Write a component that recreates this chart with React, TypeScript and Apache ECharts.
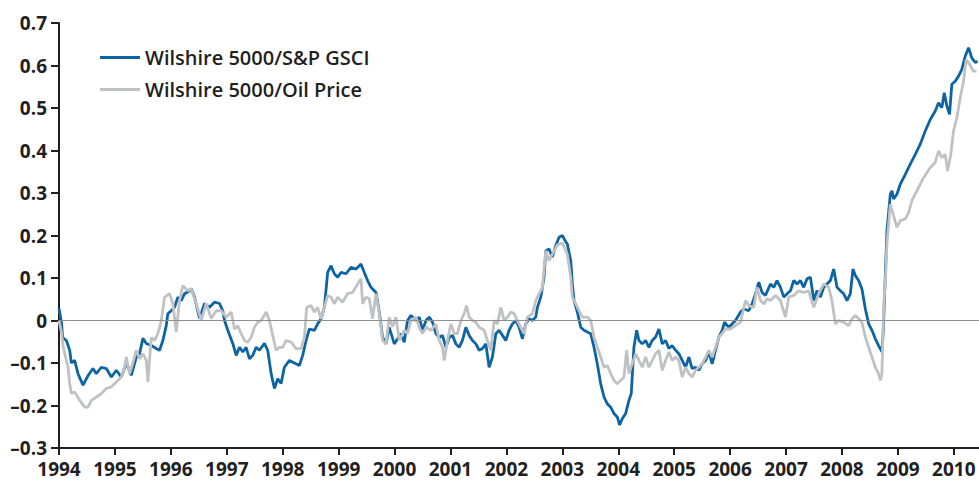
import React, { useEffect, useRef } from "react";
import * as echarts from "echarts";

// Wilshire 5000 / S&P GSCI  (decimal year, value)
const gsciSeries: [number, number][] = [
  [1994.0, 0.028], [1994.043, -0.004], [1994.066, -0.04], [1994.132, -0.047], [1994.191, -0.07],
  [1994.221, -0.1], [1994.28, -0.094], [1994.339, -0.125], [1994.429, -0.152], [1994.518, -0.13],
  [1994.607, -0.113], [1994.668, -0.125], [1994.757, -0.11], [1994.846, -0.113], [1994.936, -0.133],
  [1995.025, -0.117], [1995.114, -0.133], [1995.204, -0.1], [1995.293, -0.129], [1995.382, -0.086],
  [1995.441, -0.078], [1995.5, -0.042], [1995.561, -0.054], [1995.65, -0.059], [1995.739, -0.066],
  [1995.798, -0.07], [1995.857, -0.047], [1995.918, -0.012], [1995.946, 0.016], [1996.007, 0.023],
  [1996.066, 0.031], [1996.125, 0.055], [1996.186, 0.047], [1996.245, 0.063], [1996.334, 0.07],
  [1996.364, 0.075], [1996.423, 0.055], [1996.513, 0.005], [1996.602, 0.04], [1996.691, 0.031],
  [1996.78, 0.043], [1996.87, 0.04], [1996.929, 0.023], [1996.96, 0.0], [1997.018, -0.023],
  [1997.107, -0.054], [1997.168, -0.082], [1997.227, -0.063], [1997.286, -0.074], [1997.346, -0.063],
  [1997.405, -0.09], [1997.464, -0.082], [1997.525, -0.063], [1997.584, -0.07], [1997.673, -0.054],
  [1997.732, -0.07], [1997.793, -0.125], [1997.852, -0.16], [1997.911, -0.137], [1997.971, -0.148],
  [1998.03, -0.11], [1998.12, -0.094], [1998.209, -0.1], [1998.298, -0.106], [1998.357, -0.082],
  [1998.418, -0.047], [1998.477, -0.02], [1998.566, -0.023], [1998.625, -0.008], [1998.686, 0.004],
  [1998.745, 0.031], [1998.804, 0.113], [1998.864, 0.129], [1998.923, 0.11], [1998.982, 0.102],
  [1999.043, 0.113], [1999.132, 0.11], [1999.221, 0.125], [1999.311, 0.121], [1999.4, 0.133],
  [1999.459, 0.113], [1999.518, 0.094], [1999.579, 0.078], [1999.668, 0.066], [1999.727, 0.02],
  [1999.786, -0.04], [1999.846, -0.055], [1999.905, -0.016], [1999.995, -0.055], [2000.114, -0.031],
  [2000.173, -0.051], [2000.232, 0.0], [2000.293, 0.012], [2000.382, 0.0], [2000.441, 0.008],
  [2000.5, -0.023], [2000.561, 0.0], [2000.62, 0.008], [2000.679, -0.004], [2000.739, -0.031],
  [2000.798, -0.04], [2000.857, -0.035], [2000.918, -0.063], [2000.977, -0.04], [2001.036, -0.035],
  [2001.096, -0.055], [2001.155, -0.063], [2001.214, -0.047], [2001.275, -0.016], [2001.334, -0.035],
  [2001.393, -0.047], [2001.454, -0.055], [2001.513, -0.07], [2001.571, -0.066], [2001.632, -0.055],
  [2001.691, -0.11], [2001.75, -0.086], [2001.811, -0.031], [2001.87, -0.023], [2001.929, -0.035],
  [2001.989, -0.047], [2002.048, -0.023], [2002.107, -0.008], [2002.168, 0.0], [2002.227, -0.016],
  [2002.286, -0.043], [2002.346, -0.008], [2002.405, 0.004], [2002.464, 0.0], [2002.525, 0.008],
  [2002.554, 0.031], [2002.614, 0.055], [2002.673, 0.102], [2002.704, 0.164], [2002.763, 0.168],
  [2002.821, 0.149], [2002.882, 0.176], [2002.941, 0.196], [2003.0, 0.2], [2003.061, 0.185],
  [2003.089, 0.18], [2003.15, 0.141], [2003.179, 0.086], [2003.209, 0.047], [2003.268, 0.02],
  [2003.329, -0.016], [2003.388, -0.023], [2003.446, -0.027], [2003.507, -0.031], [2003.566, -0.063],
  [2003.625, -0.102], [2003.686, -0.149], [2003.745, -0.18], [2003.804, -0.196], [2003.864, -0.204],
  [2003.923, -0.219], [2003.982, -0.227], [2004.025, -0.246], [2004.071, -0.231], [2004.132, -0.219],
  [2004.191, -0.188], [2004.232, -0.172], [2004.28, -0.063], [2004.329, -0.023], [2004.37, -0.047],
  [2004.429, -0.055], [2004.489, -0.047], [2004.548, -0.063], [2004.607, -0.047], [2004.668, -0.039],
  [2004.727, -0.02], [2004.786, -0.055], [2004.846, -0.047], [2004.905, -0.066], [2004.964, -0.059],
  [2005.025, -0.07], [2005.084, -0.078], [2005.143, -0.094], [2005.204, -0.11], [2005.263, -0.086],
  [2005.321, -0.113], [2005.382, -0.11], [2005.441, -0.117], [2005.5, -0.102], [2005.561, -0.094],
  [2005.62, -0.074], [2005.679, -0.102], [2005.739, -0.07], [2005.798, -0.039], [2005.857, -0.023],
  [2005.9, -0.004], [2005.977, -0.016], [2006.096, 0.0], [2006.186, 0.02], [2006.245, 0.027],
  [2006.334, 0.023], [2006.393, 0.039], [2006.454, 0.063], [2006.513, 0.09], [2006.571, 0.066],
  [2006.632, 0.059], [2006.721, 0.086], [2006.78, 0.078], [2006.839, 0.094], [2006.9, 0.078],
  [2006.959, 0.055], [2007.018, 0.063], [2007.079, 0.07], [2007.138, 0.094], [2007.196, 0.086],
  [2007.257, 0.094], [2007.316, 0.078], [2007.375, 0.098], [2007.436, 0.102], [2007.495, 0.047],
  [2007.554, 0.07], [2007.614, 0.055], [2007.673, 0.078], [2007.732, 0.086], [2007.793, 0.094],
  [2007.852, 0.121], [2007.911, 0.078], [2007.971, 0.07], [2008.03, 0.063], [2008.089, 0.047],
  [2008.15, 0.063], [2008.196, 0.121], [2008.239, 0.106], [2008.298, 0.094], [2008.357, 0.074],
  [2008.418, 0.027], [2008.477, -0.008], [2008.536, -0.023], [2008.596, -0.043], [2008.655, -0.059],
  [2008.714, -0.074], [2008.736, -0.03], [2008.77, 0.09], [2008.804, 0.211], [2008.864, 0.297],
  [2008.893, 0.305], [2008.923, 0.286], [2008.982, 0.297], [2009.043, 0.321], [2009.132, 0.344],
  [2009.221, 0.368], [2009.311, 0.391], [2009.4, 0.415], [2009.489, 0.446], [2009.579, 0.473],
  [2009.668, 0.493], [2009.727, 0.512], [2009.786, 0.501], [2009.829, 0.536], [2009.875, 0.505],
  [2009.923, 0.485], [2009.964, 0.556], [2010.025, 0.563], [2010.084, 0.575], [2010.143, 0.591],
  [2010.204, 0.622], [2010.263, 0.642], [2010.321, 0.618], [2010.382, 0.607], [2010.423, 0.61],
];

// Wilshire 5000 / Oil Price  (decimal year, value)
const oilSeries: [number, number][] = [
  [1994.0, 0.0], [1994.043, -0.027], [1994.071, -0.059], [1994.132, -0.094], [1994.161, -0.11],
  [1994.191, -0.148], [1994.221, -0.172], [1994.28, -0.168], [1994.37, -0.188], [1994.459, -0.204],
  [1994.518, -0.204], [1994.579, -0.188], [1994.668, -0.18], [1994.757, -0.172], [1994.846, -0.16],
  [1994.936, -0.156], [1995.025, -0.145], [1995.114, -0.133], [1995.173, -0.11], [1995.204, -0.086],
  [1995.263, -0.125], [1995.321, -0.1], [1995.382, -0.07], [1995.441, -0.09], [1995.5, -0.078],
  [1995.561, -0.094], [1995.589, -0.145], [1995.65, -0.04], [1995.709, -0.047], [1995.768, -0.031],
  [1995.829, 0.0], [1995.888, 0.055], [1995.977, 0.063], [1996.036, 0.04], [1996.096, -0.027],
  [1996.155, 0.047], [1996.214, 0.082], [1996.304, 0.07], [1996.364, 0.075], [1996.454, 0.04],
  [1996.543, 0.0], [1996.632, 0.04], [1996.721, 0.005], [1996.811, 0.023], [1996.9, 0.023],
  [1996.989, 0.008], [1997.079, 0.02], [1997.138, -0.02], [1997.196, -0.012], [1997.257, -0.031],
  [1997.316, -0.047], [1997.375, -0.051], [1997.436, -0.039], [1997.495, -0.016], [1997.554, -0.004],
  [1997.614, 0.0], [1997.704, 0.02], [1997.763, 0.0], [1997.821, -0.035], [1997.882, -0.07],
  [1997.941, -0.063], [1998.0, -0.063], [1998.061, -0.047], [1998.15, -0.051], [1998.239, -0.066],
  [1998.329, -0.066], [1998.388, -0.039], [1998.429, 0.031], [1998.507, 0.035], [1998.566, 0.02],
  [1998.625, 0.031], [1998.686, 0.004], [1998.745, 0.031], [1998.804, 0.059], [1998.864, 0.055],
  [1998.923, 0.039], [1998.982, 0.055], [1999.071, 0.043], [1999.161, 0.063], [1999.25, 0.066],
  [1999.339, 0.086], [1999.4, 0.098], [1999.429, 0.039], [1999.489, 0.055], [1999.548, 0.051],
  [1999.607, 0.004], [1999.668, 0.063], [1999.727, 0.016], [1999.786, -0.047], [1999.846, -0.055],
  [1999.905, 0.008], [1999.964, -0.015], [2000.025, 0.008], [2000.084, -0.047], [2000.173, -0.023],
  [2000.232, -0.031], [2000.293, 0.0], [2000.382, 0.008], [2000.441, -0.016], [2000.5, -0.031],
  [2000.561, -0.016], [2000.65, -0.023], [2000.739, -0.008], [2000.798, -0.047], [2000.857, -0.063],
  [2000.888, -0.094], [2000.946, -0.047], [2001.007, -0.008], [2001.066, -0.031], [2001.125, -0.031],
  [2001.186, 0.0], [2001.245, 0.016], [2001.286, 0.035], [2001.334, 0.008], [2001.393, 0.0],
  [2001.454, -0.004], [2001.513, -0.016], [2001.602, -0.023], [2001.661, -0.047], [2001.721, -0.07],
  [2001.78, 0.0], [2001.839, -0.008], [2001.9, 0.031], [2001.959, 0.0], [2002.018, 0.008],
  [2002.079, 0.02], [2002.138, 0.016], [2002.196, 0.0], [2002.257, -0.016], [2002.316, -0.031],
  [2002.375, 0.008], [2002.464, 0.016], [2002.525, 0.047], [2002.584, 0.063], [2002.643, 0.078],
  [2002.704, 0.164], [2002.763, 0.141], [2002.821, 0.156], [2002.911, 0.178], [2003.0, 0.182],
  [2003.089, 0.156], [2003.15, 0.102], [2003.179, 0.055], [2003.239, 0.039], [2003.298, 0.023],
  [2003.357, 0.008], [2003.446, 0.008], [2003.507, 0.0], [2003.566, -0.039], [2003.625, -0.063],
  [2003.686, -0.086], [2003.745, -0.11], [2003.804, -0.106], [2003.864, -0.125], [2003.923, -0.141],
  [2003.982, -0.149], [2004.043, -0.141], [2004.102, -0.133], [2004.15, -0.07], [2004.191, -0.125],
  [2004.25, -0.102], [2004.311, -0.078], [2004.37, -0.094], [2004.429, -0.11], [2004.489, -0.086],
  [2004.548, -0.11], [2004.607, -0.094], [2004.668, -0.078], [2004.727, -0.07], [2004.786, -0.117],
  [2004.846, -0.094], [2004.905, -0.074], [2004.964, -0.094], [2005.025, -0.086], [2005.084, -0.094],
  [2005.143, -0.133], [2005.204, -0.11], [2005.263, -0.125], [2005.321, -0.133], [2005.382, -0.117],
  [2005.441, -0.11], [2005.5, -0.102], [2005.561, -0.086], [2005.62, -0.07], [2005.679, -0.086],
  [2005.739, -0.063], [2005.798, -0.039], [2005.857, -0.031], [2005.918, -0.02], [2006.007, -0.02],
  [2006.096, -0.012], [2006.186, -0.004], [2006.275, 0.047], [2006.334, 0.035], [2006.423, 0.031],
  [2006.482, 0.078], [2006.543, 0.047], [2006.602, 0.039], [2006.661, 0.051], [2006.721, 0.047],
  [2006.811, 0.059], [2006.9, 0.047], [2006.989, 0.008], [2007.048, 0.055], [2007.138, 0.059],
  [2007.227, 0.07], [2007.316, 0.066], [2007.405, 0.07], [2007.495, 0.031], [2007.584, 0.063],
  [2007.673, 0.086], [2007.763, 0.078], [2007.821, 0.047], [2007.882, -0.008], [2007.941, 0.0],
  [2008.03, -0.004], [2008.12, -0.012], [2008.179, 0.004], [2008.239, 0.012], [2008.298, 0.004],
  [2008.357, -0.004], [2008.418, -0.039], [2008.477, -0.063], [2008.536, -0.086], [2008.596, -0.11],
  [2008.655, -0.125], [2008.686, -0.141], [2008.714, -0.125], [2008.745, 0.03], [2008.786, 0.12],
  [2008.804, 0.18], [2008.864, 0.274], [2008.923, 0.246], [2008.982, 0.219], [2009.043, 0.235],
  [2009.132, 0.239], [2009.191, 0.254], [2009.25, 0.282], [2009.339, 0.305], [2009.459, 0.336],
  [2009.579, 0.36], [2009.668, 0.372], [2009.727, 0.399], [2009.786, 0.383], [2009.846, 0.391],
  [2009.888, 0.352], [2009.946, 0.391], [2009.995, 0.446], [2010.054, 0.477], [2010.114, 0.524],
  [2010.173, 0.563], [2010.221, 0.614], [2010.286, 0.602], [2010.346, 0.587], [2010.405, 0.587],
];

const xTickYears = [1994, 1995, 1996, 1997, 1998, 1999, 2000, 2001, 2002, 2003, 2004, 2005, 2006, 2007, 2008, 2009, 2010];
const seriesNames = ["Wilshire 5000/S&P GSCI", "Wilshire 5000/Oil Price"];
const seriesColors = ["#0d64a5", "#c0c1c4"];

const FONT = "'Open Sans', 'DejaVu Sans', sans-serif";
const INK = "#231f20";

export default function App() {
  const ref = useRef<HTMLDivElement>(null);
  useEffect(() => {
    if (!ref.current) return;
    const chart = echarts.init(ref.current, null, { renderer: "svg" });
    chart.setOption({
      animation: false,
      backgroundColor: "#ffffff",
      grid: { left: 59, right: 0, top: 23, bottom: 33, containLabel: false },
      legend: {
        data: seriesNames,
        orient: "vertical",
        left: 95,
        top: 41,
        icon: "rect",
        itemWidth: 40,
        itemHeight: 3,
        itemGap: 9,
        textStyle: { fontFamily: FONT, fontSize: 20, color: INK, fontWeight: 600, lineHeight: 23, padding: [0, 0, 0, 0] },
      },
      xAxis: {
        type: "value",
        min: 1994,
        max: 2010.45,
        interval: 1,
        axisLine: { show: true, onZero: false, lineStyle: { color: INK, width: 2 } },
        axisTick: { show: true, length: 7, customValues: xTickYears, lineStyle: { color: INK, width: 2 } },
        axisLabel: {
          customValues: xTickYears,
          formatter: (v: number) => String(Math.round(v)),
          fontFamily: FONT,
          fontSize: 19,
          fontWeight: 700,
          color: INK,
          margin: 11,
        },
        splitLine: { show: false },
      },
      yAxis: {
        type: "value",
        min: -0.3,
        max: 0.7,
        interval: 0.1,
        axisLine: { show: true, lineStyle: { color: INK, width: 2 } },
        axisTick: { show: true, length: 8, lineStyle: { color: INK, width: 2 } },
        axisLabel: {
          formatter: (v: number) => {
            const r = Math.round(v * 10) / 10;
            if (r === 0) return "0";
            return r < 0 ? "\u2013" + Math.abs(r).toFixed(1) : r.toFixed(1);
          },
          fontFamily: FONT,
          fontSize: 19,
          fontWeight: 700,
          color: INK,
          margin: 12,
        },
        splitLine: { show: false },
      },
      series: [
        {
          name: seriesNames[0],
          type: "line",
          data: gsciSeries,
          showSymbol: false,
          lineStyle: { color: seriesColors[0], width: 2.8 },
          itemStyle: { color: seriesColors[0] },
          z: 2,
          markLine: {
            silent: true,
            symbol: ["none", "none"],
            label: { show: false },
            lineStyle: { color: "#8e8e8e", width: 1, type: "solid" },
            data: [{ yAxis: 0 }],
          },
        },
        {
          name: seriesNames[1],
          type: "line",
          data: oilSeries,
          showSymbol: false,
          lineStyle: { color: seriesColors[1], width: 2.8 },
          itemStyle: { color: seriesColors[1] },
          z: 3,
        },
      ],
    });
    return () => chart.dispose();
  }, []);
  return (
    <div
      ref={ref}
      style={{ position: "fixed", left: 0, top: 0, width: 979, height: 481, background: "#fff" }}
    />
  );
}
